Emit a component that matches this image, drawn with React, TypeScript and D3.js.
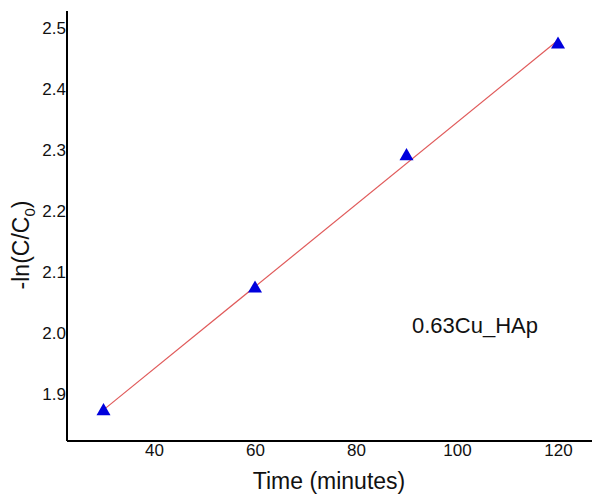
import React, { useEffect, useRef } from "react";
import * as d3 from "d3";

const times = [30, 60, 90, 120];
const lnValues = [1.872, 2.073, 2.29, 2.473];
const xTicks = [40, 60, 80, 100, 120];
const yTicks = [1.9, 2.0, 2.1, 2.2, 2.3, 2.4, 2.5];
const sampleLabel = "0.63Cu_HAp";

const App = () => {
  const ref = useRef<SVGSVGElement>(null);

  useEffect(() => {
    const svg = d3.select(ref.current);
    svg.selectAll("*").remove();

    const left = 67, right = 592, top = 11, bottom = 441;
    const font = "Arial, 'Liberation Sans', sans-serif";

    const x = d3.scaleLinear().domain([22.77, 126.73]).range([left, right]);
    const y = d3.scaleLinear().domain([1.823, 2.528]).range([bottom, top]);

    // linear fit
    const mx = d3.mean(times)!;
    const my = d3.mean(lnValues)!;
    const slope = d3.sum(times, (t, i) => (t - mx) * (lnValues[i] - my)) /
      d3.sum(times, t => (t - mx) ** 2);
    const fit = (t: number) => my + slope * (t - mx);
    const xExt = d3.extent(times) as [number, number];

    svg.append("path")
      .datum(xExt)
      .attr("d", d3.line<number>().x(t => x(t)).y(t => y(fit(t))))
      .attr("fill", "none")
      .attr("stroke", "#e05a5a")
      .attr("stroke-width", 1.2);

    svg.selectAll(".pt")
      .data(times)
      .enter()
      .append("path")
      .attr("class", "pt")
      .attr("transform", (t, i) => `translate(${x(t)},${y(lnValues[i])})`)
      .attr("d", d3.symbol().type(d3.symbolTriangle).size(85)())
      .attr("fill", "#0000dd");

    // axes
    const ax = svg.append("g")
      .attr("transform", `translate(0,${bottom})`)
      .call(d3.axisBottom(x).tickValues(xTicks).tickSize(0).tickPadding(3));
    ax.select(".domain").attr("stroke", "#000").attr("stroke-width", 2).attr("d", `M${left},0H${right}`);
    ax.selectAll("text").attr("font-size", 17).attr("font-family", font).attr("fill", "#111");

    const ay = svg.append("g")
      .attr("transform", `translate(${left},0)`)
      .call(d3.axisLeft(y).tickValues(yTicks).tickFormat(d3.format(".1f")).tickSize(0).tickPadding(1));
    ay.select(".domain").attr("stroke", "#000").attr("stroke-width", 2).attr("d", `M0,${top}V${bottom}`);
    ay.selectAll("text").attr("font-size", 17).attr("font-family", font).attr("fill", "#111");

    svg.append("text")
      .attr("x", 329)
      .attr("y", 489)
      .attr("text-anchor", "middle")
      .attr("font-size", 23)
      .attr("font-family", font)
      .attr("fill", "#111")
      .text("Time (minutes)");

    const yl = svg.append("text")
      .attr("transform", `translate(29,245) rotate(-90)`)
      .attr("text-anchor", "middle")
      .attr("font-size", 23)
      .attr("font-family", font)
      .attr("fill", "#111");
    yl.append("tspan").text("-ln(C/C");
    yl.append("tspan").attr("font-size", 15).attr("dy", 6).text("0");
    yl.append("tspan").attr("dy", -6).text(")");

    svg.append("text")
      .attr("x", 412)
      .attr("y", 333)
      .attr("font-size", 22)
      .attr("font-family", font)
      .attr("fill", "#111")
      .text(sampleLabel);
  }, []);

  return (
    <svg ref={ref} width={592} height={494}
      style={{ position: "absolute", left: 0, top: 0, background: "#fff" }} />
  );
};

export default App;
